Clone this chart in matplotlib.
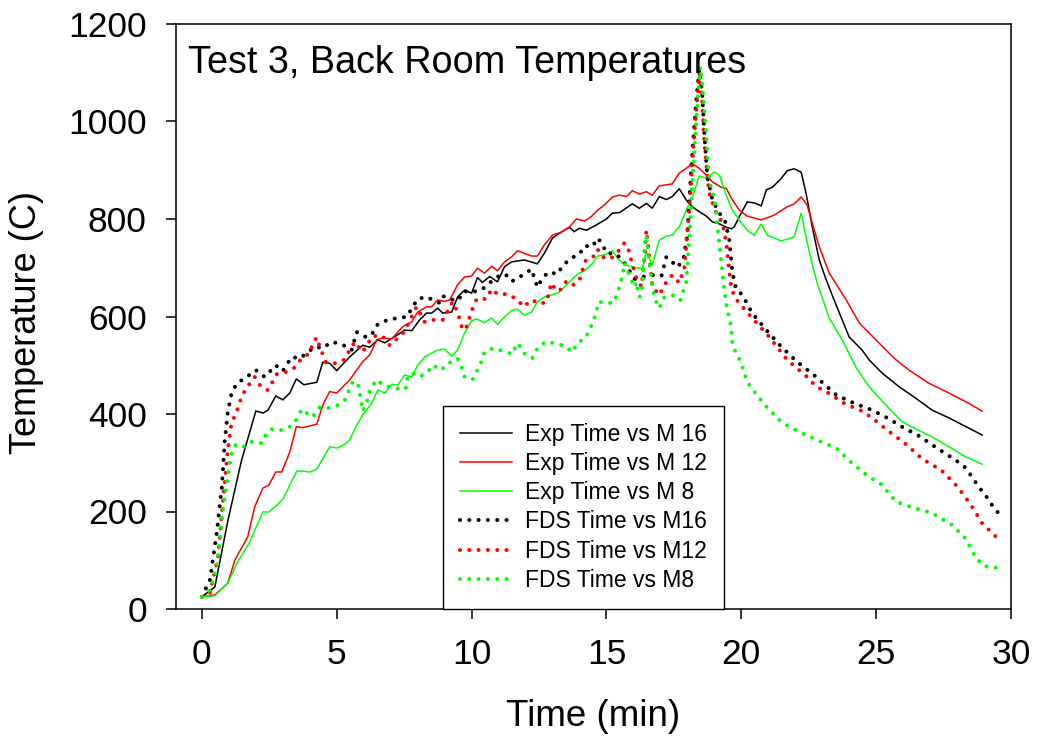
import matplotlib
matplotlib.use("Agg")
import matplotlib.pyplot as plt

plt.rcParams['font.family'] = ['Liberation Sans', 'DejaVu Sans']

# ---- data (time in min, temperature in C) ----
exp16_t = [0, 0.48, 0.97, 1.47, 2.0, 2.27, 2.45, 2.74, 3.0, 3.26, 3.5, 3.78, 4.26, 4.48, 4.74, 5.0,
           5.48, 5.96, 6.22, 6.52, 6.78, 7.07, 7.52, 7.78, 8.07, 8.33, 8.52, 8.74, 8.93, 9.26, 9.48,
           9.74, 10.0, 10.22, 10.4, 10.67, 10.96, 11.22, 11.48, 11.96, 12.44, 12.7, 13.0, 13.26,
           13.63, 13.8, 14.0, 14.26, 14.63, 15.0, 15.22, 15.48, 15.96, 16.22, 16.48, 16.7, 16.96,
           17.22, 17.44, 17.7, 17.96, 18.19, 18.44, 18.7, 18.93, 19.19, 19.44, 19.63, 19.74, 19.93,
           20.22, 20.48, 20.74, 20.93, 21.15, 21.48, 21.7, 21.96, 22.22, 22.4, 22.63, 22.89, 23.15,
           23.44, 24.0, 24.48, 24.74, 25.22, 25.85, 26.48, 27.07, 27.7, 28.33, 28.93]
exp16_v = [25, 45, 183, 305, 406, 402, 408, 437, 429, 443, 472, 460, 465, 506, 504, 489,
           517, 541, 537, 552, 546, 556, 572, 571, 593, 607, 607, 617, 607, 609, 640,
           654, 648, 680, 670, 682, 671, 702, 712, 716, 708, 730, 761, 771,
           783, 774, 781, 777, 788, 800, 812, 813, 831, 822, 832, 822, 846,
           840, 846, 862, 839, 825, 815, 806, 794, 790, 783, 780, 784, 805,
           835, 833, 827, 860, 865, 883, 899, 903, 896, 853, 784, 716, 675,
           634, 558, 531, 511, 484, 456, 432, 408, 392, 374, 357]

exp12_t = [0, 0.48, 0.96, 1.22, 1.7, 1.96, 2.26, 2.48, 2.74, 2.96, 3.26, 3.5, 3.74, 4.26, 4.48,
           4.74, 5.0, 5.48, 5.96, 6.22, 6.48, 6.7, 7.04, 7.44, 7.78, 8.0, 8.33, 8.52, 8.74, 9.0,
           9.19, 9.48, 9.74, 10.0, 10.22, 10.48, 10.74, 10.96, 11.22, 11.48, 11.7, 12.22, 12.44,
           12.7, 13.0, 13.33, 13.63, 13.89, 14.19, 14.44, 14.67, 14.93, 15.22, 15.48, 15.74,
           15.96, 16.22, 16.48, 16.7, 16.96, 17.44, 17.7, 17.96, 18.19, 18.44, 18.7, 18.93,
           19.26, 19.44, 19.67, 19.93, 20.22, 20.74, 21.22, 21.7, 21.96, 22.22, 22.44, 22.63,
           22.89, 23.26, 23.89, 24.37, 25.37, 25.74, 26.22, 26.96, 27.7, 28.33, 28.93]
exp12_v = [25, 29, 53, 100, 148, 210, 248, 254, 281, 281, 322, 374, 372, 379, 418,
           446, 443, 470, 507, 521, 552, 556, 554, 579, 589, 609, 620, 620, 634, 631,
           634, 665, 681, 683, 699, 689, 703, 694, 712, 722, 735, 724, 724,
           747, 767, 773, 784, 800, 796, 805, 818, 829, 845, 849, 846,
           858, 851, 856, 849, 868, 872, 894, 904, 913, 904, 890, 876,
           865, 863, 839, 818, 806, 798, 808, 825, 831, 845, 829, 792,
           743, 689, 634, 587, 531, 511, 490, 463, 443, 425, 406]

exp8_t = [0, 0.48, 0.96, 1.3, 1.78, 2.26, 2.48, 2.78, 3.0, 3.52, 3.74, 4.0, 4.26, 4.74, 5.0, 5.3,
          5.48, 5.74, 5.96, 6.3, 6.52, 6.78, 7.04, 7.26, 7.52, 7.78, 8.0, 8.26, 8.52, 8.74, 9.0,
          9.26, 9.48, 9.74, 10.0, 10.19, 10.48, 10.74, 10.96, 11.22, 11.48, 11.7, 11.96, 12.22,
          12.44, 12.7, 13.19, 13.44, 13.7, 13.93, 14.19, 14.44, 14.67, 14.93, 15.22, 15.4, 15.67,
          16.04, 16.33, 16.48, 16.7, 16.96, 17.22, 17.44, 17.7, 17.96, 18.19, 18.44, 18.7, 19.0,
          19.19, 19.44, 19.67, 20.0, 20.22, 20.48, 20.74, 20.96, 21.48, 21.96, 22.22, 22.4, 22.59,
          22.81, 23.26, 23.74, 24.26, 24.74, 25.37, 25.96, 26.48, 27.07, 27.7, 28.33, 28.93]
exp8_v = [25, 27, 53, 94, 138, 199, 199, 213, 225, 283, 283, 281, 287, 333, 330, 338,
          347, 377, 398, 422, 449, 443, 461, 459, 480, 476, 500, 517, 525, 531, 533,
          519, 531, 566, 591, 595, 587, 597, 584, 599, 612, 615, 603, 609,
          630, 640, 648, 660, 675, 687, 694, 706, 724, 726, 735, 720, 706,
          701, 698, 733, 706, 757, 765, 767, 784, 818, 845, 888, 884, 896,
          890, 849, 818, 792, 777, 767, 790, 767, 755, 763, 812, 763, 716,
          669, 597, 552, 495, 456, 418, 384, 369, 353, 333, 312, 297]

fds16_t = [0, 0.3, 0.55, 0.74, 0.85, 0.96, 1.1, 1.3, 1.66, 2.0, 2.33, 2.74, 3.0, 3.33, 3.63, 3.89,
           4.19, 4.48, 4.81, 5.19, 5.55, 5.74, 6.11, 6.33, 6.52, 6.89, 7.26, 7.59, 8.0, 8.33, 8.81,
           8.93, 9.19, 9.48, 9.74, 10.04, 10.4, 10.67, 11.1, 11.4, 11.52, 11.9, 12.22, 12.44, 12.63,
           12.85, 13.19, 13.37, 13.7, 14.0, 14.19, 14.48, 14.67, 14.85, 15.0, 15.37, 15.67, 16.04,
           16.33, 16.7, 17.04, 17.22, 17.4, 17.63, 17.85, 18.0, 18.07, 18.19, 18.33, 18.44, 18.55,
           18.63, 18.74, 18.93, 19.19, 19.4, 19.55, 19.67, 19.8, 20.04, 20.4, 20.93, 21.48, 22.07,
           22.78, 23.52, 24.19, 24.85, 25.55, 25.85, 26.59, 27.26, 27.96, 28.33, 28.81, 29.07,
           29.3, 29.7]
fds16_v = [25, 60, 156, 250, 347, 404, 443, 463, 476, 490, 476, 500, 488, 517, 514, 525,
           538, 535, 548, 543, 531, 568, 557, 566, 584, 593, 597, 599, 636, 640, 628,
           642, 636, 632, 652, 650, 656, 669, 687, 683, 673, 685, 697, 660, 679,
           691, 687, 704, 720, 728, 745, 743, 761, 749, 730, 728, 710, 677,
           681, 685, 683, 722, 714, 701, 716, 767, 839, 942, 1044, 1106, 1058,
           976, 886, 839, 812, 795, 760, 690, 658, 644, 607, 572, 538, 507,
           476, 439, 422, 408, 388, 377, 355, 330, 305, 289, 250, 232,
           213, 185]

fds12_t = [0, 0.3, 0.6, 0.74, 0.89, 0.96, 1.1, 1.26, 1.37, 1.48, 1.7, 1.96, 2.15, 2.44, 2.59, 2.78,
           3.11, 3.41, 3.7, 4.0, 4.11, 4.26, 4.37, 4.59, 4.93, 5.26, 5.67, 5.96, 6.33, 6.7, 6.96,
           7.44, 7.63, 7.96, 8.26, 8.55, 8.93, 9.3, 9.48, 9.67, 9.81, 10.04, 10.19, 10.37, 10.55,
           10.74, 10.96, 11.3, 11.67, 11.93, 12.22, 12.56, 12.78, 12.96, 13.15, 13.33, 13.52, 13.78,
           14.0, 14.22, 14.48, 14.67, 14.85, 15.15, 15.41, 15.67, 15.85, 15.93, 16.11, 16.3, 16.37,
           16.44, 16.48, 16.52, 16.59, 16.7, 16.96, 17.15, 17.44, 17.7, 17.89, 18.07, 18.19, 18.33,
           18.44, 18.55, 18.63, 18.81, 19.07, 19.3, 19.44, 19.6, 19.74, 20.04, 20.4, 21.04, 21.7,
           22.44, 22.78, 23.15, 23.81, 24.48, 24.85, 25.41, 26.11, 26.7, 27.41, 28.0, 28.52, 28.93,
           29.48, 29.7]
fds12_v = [25, 33, 107, 197, 285, 326, 382, 400, 418, 437, 457, 476, 459, 449, 463, 482,
           486, 494, 514, 525, 545, 557, 538, 507, 504, 511, 548, 527, 560, 560, 541,
           564, 583, 620, 589, 593, 593, 630, 609, 572, 579, 617, 636, 636, 636,
           656, 646, 646, 636, 620, 634, 626, 630, 669, 652, 656, 673, 665,
           675, 714, 720, 738, 722, 718, 732, 751, 733, 712, 679, 661, 699,
           743, 777, 759, 720, 662, 644, 665, 685, 669, 701, 818, 921, 1024,
           1099, 1044, 956, 853, 812, 792, 753, 669, 640, 620, 597, 558, 511,
           476, 456, 446, 422, 406, 392, 367, 338, 308, 285, 252, 213, 176,
           146, 142]

fds8_t = [0, 0.3, 0.55, 0.67, 0.78, 0.93, 1.04, 1.11, 1.26, 1.56, 1.85, 2.22, 2.37, 2.59, 2.93, 3.3,
          3.55, 3.7, 3.89, 4.11, 4.37, 4.67, 5.04, 5.3, 5.59, 5.78, 5.85, 5.92, 5.96, 6.11, 6.22,
          6.48, 6.78, 7.11, 7.41, 7.56, 7.63, 7.81, 8.07, 8.37, 8.55, 8.89, 9.07, 9.48, 9.63, 9.74,
          10.04, 10.19, 10.37, 10.48, 10.81, 11.15, 11.52, 11.67, 11.81, 12.0, 12.26, 12.44, 12.74,
          13.11, 13.44, 13.74, 13.93, 14.22, 14.37, 14.52, 14.63, 14.7, 15.0, 15.26, 15.41, 15.6,
          15.67, 15.78, 16.04, 16.11, 16.22, 16.3, 16.41, 16.48, 16.52, 16.59, 16.67, 16.78, 16.96,
          17.15, 17.52, 17.74, 17.96, 18.11, 18.19, 18.3, 18.41, 18.48, 18.55, 18.67, 18.78, 18.89,
          19.0, 19.15, 19.3, 19.37, 19.48, 19.63, 19.67, 20.0, 20.22, 20.48, 20.78, 21.04, 21.52,
          22.15, 22.81, 23.52, 24.11, 24.74, 25.19, 25.74, 26.41, 27.07, 27.78, 28.33, 28.52, 28.7,
          29.0, 29.37, 29.7]
fds8_v = [25, 39, 86, 146, 203, 261, 299, 320, 338, 333, 343, 340, 357, 369, 367, 375,
          392, 410, 402, 394, 414, 412, 418, 429, 466, 464, 443, 425, 406, 422, 449,
          470, 457, 455, 449, 453, 476, 484, 476, 486, 500, 490, 502, 514, 496, 476,
          471, 488, 508, 527, 535, 529, 523, 545, 538, 521, 515, 535, 548,
          545, 540, 527, 546, 556, 572, 591, 609, 630, 628, 628, 648, 685,
          710, 695, 660, 671, 640, 644, 736, 767, 743, 710, 675, 638, 617,
          640, 644, 634, 671, 792, 874, 976, 1065, 1112, 1079, 997, 901, 860,
          845, 767, 691, 654, 613, 578, 541, 504, 466, 446, 425, 408, 382,
          363, 347, 330, 299, 271, 256, 220, 207, 197, 174, 144, 123, 105,
          88, 86, 80]

labels = ['Exp Time vs M 16', 'Exp Time vs M 12', 'Exp Time vs M 8',
          'FDS Time vs M16', 'FDS Time vs M12', 'FDS Time vs M8']
x_ticks = [0, 5, 10, 15, 20, 25, 30]
y_ticks = [0, 200, 400, 600, 800, 1000, 1200]

# ---- figure ----
fig = plt.figure(figsize=(10.38, 7.40), dpi=100)
ax = fig.add_axes([176/1038, 1 - 609/740, (1011-176)/1038, (609-24)/740])

GREEN = '#00ff00'
RED = '#ff0000'
solid_kw = dict(lw=1.1, solid_joinstyle='miter')
dot_kw = dict(lw=2.9, ls=(0, (0.01, 2.3)), dash_capstyle='round')

ax.plot(exp16_t, exp16_v, color='black', label=labels[0], **solid_kw)
ax.plot(exp12_t, exp12_v, color=RED, label=labels[1], **solid_kw)
ax.plot(exp8_t, exp8_v, color=GREEN, label=labels[2], **solid_kw)
ax.plot(fds16_t, fds16_v, color='black', label=labels[3], **dot_kw)
ax.plot(fds12_t, fds12_v, color=RED, label=labels[4], **dot_kw)
ax.plot(fds8_t, fds8_v, color=GREEN, label=labels[5], **dot_kw)

ax.set_xlim(-0.96, 30)
ax.set_ylim(0, 1200)
ax.set_xticks(x_ticks)
ax.set_yticks(y_ticks)
ax.tick_params(direction='out', length=7, width=1.1, labelsize=25.5, pad=14,
               top=False, right=False)
for s in ax.spines.values():
    s.set_linewidth(1.1)

ax.set_xlabel('Time (min)', fontsize=26.5, va='center')
ax.xaxis.set_label_coords(0.5, (609-717)/585)
ax.set_ylabel('Temperature (C)', fontsize=26, va='center')
ax.yaxis.set_label_coords((27-176)/835, (609-322)/585)

ax.text((188-176)/835, (609-73)/585, 'Test 3, Back Room Temperatures',
        transform=ax.transAxes, fontsize=27.2, va='baseline', ha='left')

leg = ax.legend(loc='lower left', bbox_to_anchor=((443-176)/835, 0), borderaxespad=0,
                fontsize=16.5, frameon=True, fancybox=False, framealpha=1,
                edgecolor='black', handlelength=2.27, handletextpad=0.57,
                borderpad=0.75, labelspacing=0.27)
leg.get_frame().set_linewidth(1.0)

fig.savefig('out.png', dpi=100)
